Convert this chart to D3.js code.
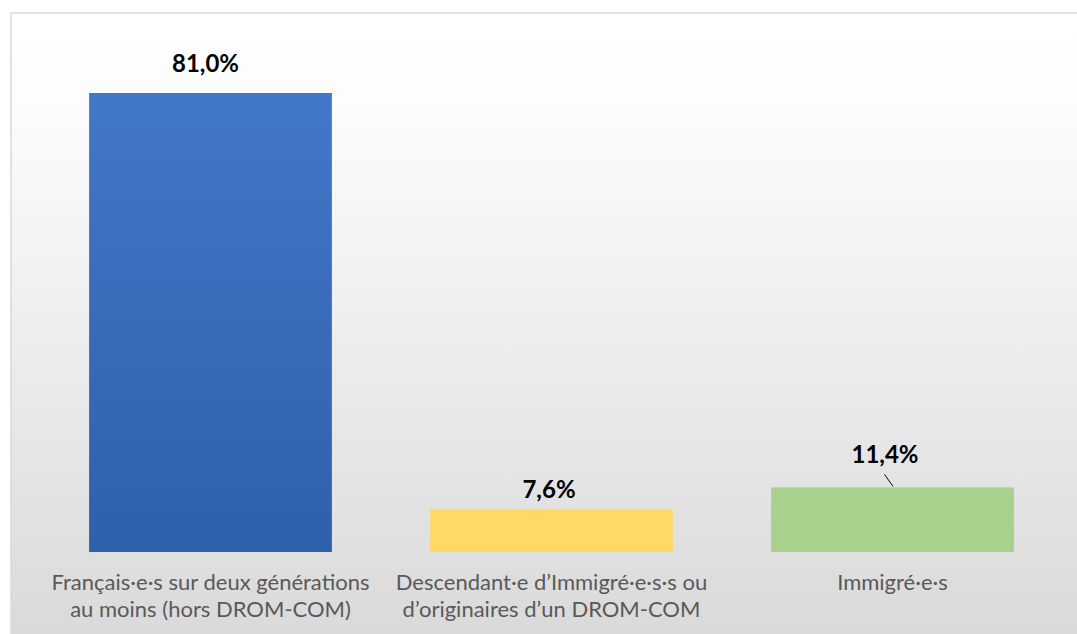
<!DOCTYPE html>
<html>
<head>
<meta charset="utf-8">
<script src="https://cdn.jsdelivr.net/npm/d3@7"></script>
<style>
  body { margin: 0; background: #fff; }
  svg { display: block; }
</style>
</head>
<body>
<div id="chart"></div>
<script>
// data
const categories = [
    ['Français·e·s sur deux générations', 'au moins (hors DROM-COM)'],
    ['Descendant·e d’Immigré·e·s·s ou', 'd’originaires d’un DROM-COM'],
    ['Immigré·e·s']
];
const values = [81.0, 7.6, 11.4];
const valueLabels = ['81,0%', '7,6%', '11,4%'];
const colors = ['blue', '#ffd966', '#a9d18e'];

const width = 1077, height = 634;
const font = 'Lato, "Open Sans", sans-serif';

const svg = d3.select('#chart').append('svg')
    .attr('width', width)
    .attr('height', height);

const defs = svg.append('defs');
const bg = defs.append('linearGradient').attr('id', 'bg')
    .attr('x1', 0).attr('y1', 0).attr('x2', 0).attr('y2', 1);
bg.append('stop').attr('offset', '0%').attr('stop-color', '#ffffff');
bg.append('stop').attr('offset', '12%').attr('stop-color', '#fdfdfd');
bg.append('stop').attr('offset', '100%').attr('stop-color', '#d9d9d9');

const blue = defs.append('linearGradient').attr('id', 'blue')
    .attr('x1', 0).attr('y1', 0).attr('x2', 0).attr('y2', 1);
blue.append('stop').attr('offset', '0%').attr('stop-color', '#4377c8');
blue.append('stop').attr('offset', '100%').attr('stop-color', '#2f60aa');

// chart area frame
svg.append('rect')
    .attr('x', 11).attr('y', 13)
    .attr('width', width).attr('height', height)
    .attr('fill', 'url(#bg)')
    .attr('stroke', '#d9d9d9')
    .attr('stroke-width', 1.5);

const x = d3.scaleBand()
    .domain(d3.range(values.length))
    .range([40, 1063])
    .paddingInner(0.288)
    .paddingOuter(0.144);

const y = d3.scaleLinear()
    .domain([0, 81])
    .range([552, 93]);

svg.selectAll('rect.bar')
    .data(values)
    .enter().append('rect')
    .attr('class', 'bar')
    .attr('x', (d, i) => x(i))
    .attr('y', (d) => y(d))
    .attr('width', x.bandwidth())
    .attr('height', (d) => y(0) - y(d))
    .attr('fill', (d, i) => colors[i] === 'blue' ? 'url(#blue)' : colors[i]);

// value labels (the last one sits a bit higher, with a leader line)
const labelOffset = [21, 11, 24];
const labelShift = [-5, -2.5, -7.5];
svg.selectAll('text.value')
    .data(values)
    .enter().append('text')
    .attr('class', 'value')
    .attr('x', (d, i) => x(i) + x.bandwidth() / 2 + labelShift[i])
    .attr('y', (d, i) => y(d) - labelOffset[i])
    .attr('text-anchor', 'middle')
    .style('font-family', font)
    .style('font-weight', 'bold')
    .style('font-size', '24px')
    .attr('fill', '#000')
    .text((d, i) => valueLabels[i]);

const last = values.length - 1;
svg.append('line')
    .attr('x1', x(last) + x.bandwidth() / 2 - 8)
    .attr('y1', y(values[last]) - 13)
    .attr('x2', x(last) + x.bandwidth() / 2 + 0.5)
    .attr('y2', y(values[last]) - 1)
    .attr('stroke', '#000')
    .attr('stroke-width', 1);

// category labels
const cat = svg.selectAll('text.cat')
    .data(categories)
    .enter().append('text')
    .attr('class', 'cat')
    .attr('x', (d, i) => x(i) + x.bandwidth() / 2)
    .attr('y', 590)
    .attr('text-anchor', 'middle')
    .style('font-family', font)
    .style('font-size', '22px')
    .attr('fill', '#595959');

cat.selectAll('tspan')
    .data((d) => d)
    .enter().append('tspan')
    .attr('x', function () { return d3.select(this.parentNode).attr('x'); })
    .attr('dy', (d, i) => i === 0 ? 0 : 27)
    .text((d) => d);
</script>
</body>
</html>
